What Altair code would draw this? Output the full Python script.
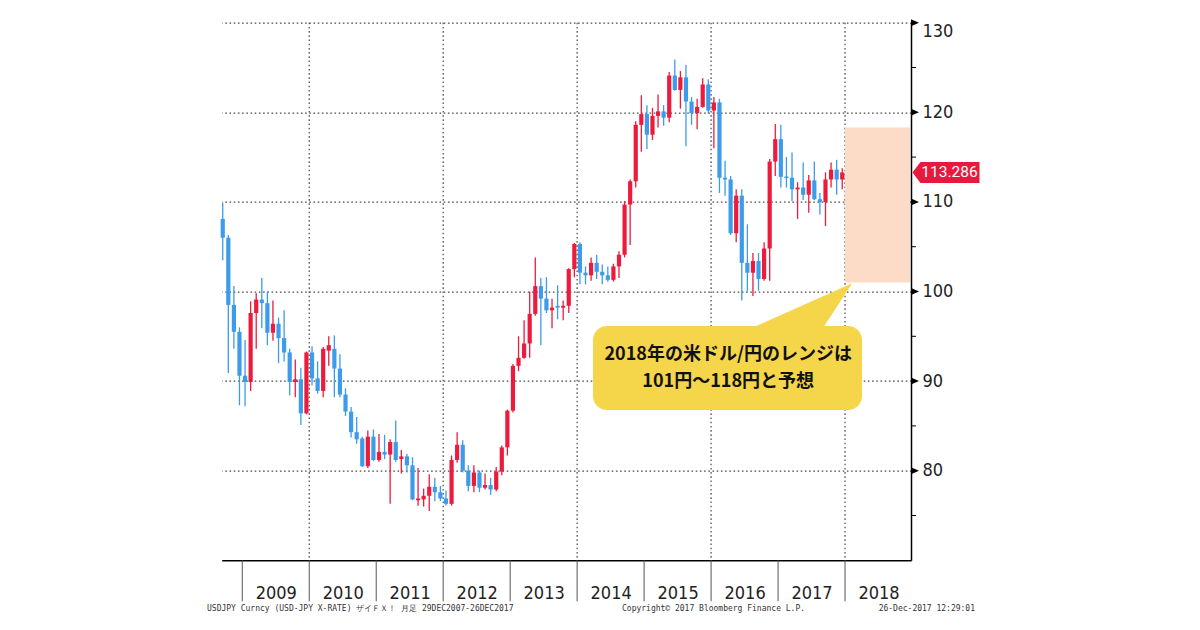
import altair as alt
import pandas as pd

# Monthly USD/JPY candles, Sep 2008 .. Dec 2017
start_year, start_month = 2008, 9
opens = [108.1, 106.0, 98.5, 95.5,
         90.6, 89.9, 97.6, 99.1, 98.7, 95.4, 96.4, 94.8, 93.2, 89.9, 90.2, 86.4,
         93.2, 90.3, 88.9, 93.4, 93.6, 91.4, 88.5, 86.6, 84.3, 83.6, 80.5, 83.8,
         81.2, 82.1, 81.8, 83.2, 81.3, 81.6, 80.6, 76.7, 76.8, 77.2, 78.2, 77.6,
         76.9, 76.3, 81.2, 82.9, 80.0, 78.3, 79.8, 78.1, 78.4, 77.9, 79.9, 82.6,
         86.7, 91.7, 92.6, 94.2, 97.5, 100.6, 99.2, 97.9, 98.4, 98.2, 98.4, 102.5,
         105.3, 102.1, 101.8, 103.2, 102.2, 101.8, 101.3, 102.8, 104.1, 109.7, 112.3, 118.6,
         119.8, 117.5, 119.6, 120.1, 119.4, 124.1, 122.5, 123.9, 121.2, 119.9, 120.6, 123.1,
         120.2, 121.1, 112.7, 112.5, 106.5, 110.7, 103.2, 102.1, 103.4, 101.4, 104.8, 114.5,
         117.0, 112.8, 112.7, 111.4, 111.6, 110.8, 112.4, 110.3, 110.0, 112.5, 113.6, 112.5]
highs = [109.9, 106.3, 100.6, 96.0,
         94.6, 98.9, 99.8, 101.5, 100.0, 99.0, 97.1, 97.9, 93.6, 92.4, 91.5, 93.3,
         93.9, 92.2, 93.8, 95.0, 95.1, 93.0, 89.2, 87.1, 86.0, 83.8, 84.5, 84.6,
         84.1, 84.0, 83.5, 85.6, 82.3, 81.9, 81.5, 80.3, 78.0, 79.6, 79.2, 78.3,
         77.8, 81.7, 84.3, 83.4, 80.6, 80.6, 80.0, 79.7, 79.2, 80.4, 82.8, 86.8,
         91.9, 95.0, 96.8, 100.0, 103.8, 101.5, 101.6, 99.2, 100.7, 99.0, 102.6, 105.4,
         105.5, 102.8, 103.8, 104.1, 103.0, 102.8, 103.1, 104.5, 110.1, 112.5, 119.0, 121.9,
         120.8, 120.5, 122.0, 120.8, 124.5, 125.9, 124.6, 125.3, 121.7, 121.5, 123.8, 123.7,
         121.7, 121.5, 114.6, 112.9, 111.4, 111.4, 107.5, 104.3, 104.3, 105.5, 114.8, 118.7,
         118.6, 115.0, 115.5, 112.2, 114.4, 113.0, 114.5, 111.0, 113.3, 114.4, 114.7, 113.75]
lows = [103.5, 90.9, 93.6, 87.3,
        87.2, 88.9, 93.6, 95.9, 94.0, 94.5, 92.0, 92.2, 88.4, 88.2, 85.1, 86.3,
        89.5, 88.6, 88.2, 91.7, 88.2, 88.2, 86.1, 83.7, 83.0, 80.4, 80.3, 81.1,
        81.0, 81.3, 76.3, 81.0, 79.7, 79.8, 76.7, 76.1, 76.0, 75.5, 76.6, 76.6,
        76.1, 76.1, 80.9, 79.8, 77.7, 77.6, 77.6, 77.9, 77.3, 77.7, 79.5, 81.7,
        86.5, 91.1, 92.5, 92.6, 97.3, 94.0, 97.6, 95.9, 96.9, 96.8, 97.6, 101.6,
        100.8, 100.8, 101.2, 101.4, 100.8, 101.1, 101.1, 101.5, 103.8, 105.2, 111.6, 115.6,
        115.9, 116.9, 118.3, 118.5, 118.9, 122.4, 120.4, 116.2, 118.6, 118.1, 120.5, 119.9,
        116.0, 111.0, 110.7, 106.3, 105.5, 99.0, 100.0, 99.5, 100.1, 101.2, 101.2, 112.9,
        111.6, 111.6, 110.1, 108.1, 110.2, 108.8, 110.2, 108.6, 107.3, 111.6, 110.8, 111.4]
closes = [106.0, 98.5, 95.5, 90.6,
          89.9, 97.6, 99.1, 98.7, 95.4, 96.4, 94.8, 93.2, 89.9, 90.2, 86.4, 93.2,
          90.3, 88.9, 93.6, 94.0, 91.4, 88.5, 86.6, 84.3, 83.5, 80.5, 83.8, 81.2,
          82.1, 81.8, 83.2, 81.2, 81.6, 80.6, 76.8, 76.9, 77.2, 78.2, 77.6, 76.9,
          76.3, 81.2, 82.9, 80.0, 78.3, 79.8, 78.1, 78.4, 77.9, 79.9, 82.6, 86.7,
          91.7, 92.6, 94.2, 97.5, 100.6, 99.2, 97.9, 98.2, 98.2, 98.4, 102.5, 105.3,
          102.1, 101.8, 103.2, 102.2, 101.8, 101.3, 102.8, 104.1, 109.7, 112.3, 118.6, 119.8,
          117.5, 119.6, 120.1, 119.4, 124.1, 122.5, 123.9, 121.2, 119.9, 120.6, 123.1, 120.2,
          121.1, 112.7, 112.5, 106.5, 110.7, 103.2, 102.1, 103.4, 101.4, 104.8, 114.5, 117.0,
          112.8, 112.7, 111.4, 111.6, 110.8, 112.4, 110.3, 110.0, 112.5, 113.6, 112.5, 113.286]

year_labels = [2009, 2010, 2011, 2012, 2013, 2014, 2015, 2016, 2017, 2018]
grid_years = [2010, 2012, 2014, 2016, 2018]
y_major = [80, 90, 100, 110, 120, 130]
y_minor = [75, 85, 95, 105, 115, 125]
range_low, range_high = 101, 118.3
last_price = 113.286
callout_lines = ["2018年の米ドル/円のレンジは", "101円～118円と予想"]
footer_left = "USDJPY Curncy (USD-JPY X-RATE) ザイＦＸ！ 月足 29DEC2007-26DEC2017"
footer_mid = "Copyright© 2017 Bloomberg Finance L.P."
footer_right = "26-Dec-2017 12:29:01"

RED = "#EC1B3C"
BLUE = "#3C9BEA"
W, H = 689.3, 537.6
PL, PT = 213.7, 14.7
LABEL_FONT = "Liberation Sans Narrow, DejaVu Sans Condensed, Roboto, sans-serif"
GRID = "#4a4a4a"

rows = []
for i, (o, h, l, c) in enumerate(zip(opens, highs, lows, closes)):
    m = start_month - 1 + i
    yr = start_year + m // 12
    mo = m % 12 + 1
    top, bot = max(o, c), min(o, c)
    if top - bot < 0.16:
        mid = (top + bot) / 2
        top, bot = mid + 0.08, mid - 0.08
    rows.append({"t": yr + (mo - 0.5) / 12, "high": h, "low": l, "top": top, "bot": bot,
                 "dir": "up" if c >= o else "down"})
candles = pd.DataFrame(rows)

xscale = alt.Scale(domain=[2008.693, 2018.985], nice=False, zero=False)
yscale = alt.Scale(domain=[70, 130], nice=False, zero=False)
cscale = alt.Scale(domain=["up", "down"], range=[RED, BLUE])

xaxis = alt.Axis(values=[y + 0.5 for y in year_labels], labelExpr="floor(datum.value)",
                 ticks=False, grid=False, domainColor="#000", domainWidth=1.5, title=None,
                 labelFont=LABEL_FONT, labelFontSize=18, labelColor="#222", labelPadding=24,
                 labelFlush=False)
yaxis = alt.Axis(orient="right", values=y_major, ticks=False, grid=True, gridDash=[1.6, 2.6],
                 gridColor=GRID, gridWidth=1.2, domainColor="#000", domainWidth=1.5, title=None,
                 labelFont=LABEL_FONT, labelFontSize=18, labelColor="#222", labelPadding=11,
                 labelFlush=True)


def X(f):
    return alt.X(f, scale=xscale, axis=xaxis)


def Y(f):
    return alt.Y(f, scale=yscale, axis=yaxis)


vgrid = alt.Chart(pd.DataFrame({"yr": grid_years})).mark_rule(
    strokeDash=[1.6, 2.6], color=GRID, strokeWidth=1.2).encode(
    x=X("yr:Q"), y=alt.value(0), y2=alt.value(H))

seps = alt.Chart(pd.DataFrame({"yr": year_labels})).mark_rule(color="#555", strokeWidth=1).encode(
    x=X("yr:Q"), y=alt.value(H), y2=alt.value(H + 41))

shade = alt.Chart(pd.DataFrame({"a": [2018], "b": [2018.97], "lo": [range_low], "hi": [range_high]})).mark_rect(
    color="#FCDCC7").encode(x=X("a:Q"), x2="b:Q", y=Y("lo:Q"), y2="hi:Q")

wicks = alt.Chart(candles).mark_rule(strokeWidth=1.3).encode(
    x=X("t:Q"), y=Y("low:Q"), y2="high:Q",
    color=alt.Color("dir:N", scale=cscale, legend=None))

bodies = alt.Chart(candles).mark_rule(strokeWidth=4.2, strokeCap="butt").encode(
    x=X("t:Q"), y=Y("bot:Q"), y2="top:Q",
    color=alt.Color("dir:N", scale=cscale, legend=None))

major_marks = alt.Chart(pd.DataFrame({"v": y_major})).mark_point(
    shape="M 0 -3.5 L 8 0 L 0 3.5 Z", size=4, filled=True, opacity=1, color="#000", strokeWidth=0).encode(
    x=alt.value(W), y=Y("v:Q"))

minor_marks = alt.Chart(pd.DataFrame({"v": y_minor})).mark_rule(color="#000", strokeWidth=1).encode(
    x=alt.value(W), x2=alt.value(W + 5), y=Y("v:Q"))

tag = alt.Chart(pd.DataFrame({"p": [last_price]})).mark_point(
    shape="M 0 0 L 8 -10.5 L 67 -10.5 L 67 10.5 L 8 10.5 Z", size=4, filled=True, opacity=1,
    color="#E8193C", strokeWidth=0).encode(
    x=alt.value(W + 1.5), y=Y("p:Q"))

tag_text = alt.Chart(pd.DataFrame({"p": [last_price], "s": [f"{last_price:.3f}"]})).mark_text(
    font="Roboto, sans-serif", fontSize=15.5, color="#fff", align="center", baseline="middle").encode(
    x=alt.value(W + 38.5), y=Y("p:Q"), text="s:N")

one = pd.DataFrame({"k": [0]})
pointer = alt.Chart(one).mark_point(
    shape="M 0 0 L -103 46 L -30 46 Z", size=4, filled=True, opacity=1, color="#F5D54A", strokeWidth=0).encode(
    x=alt.value(630.5), y=alt.value(260.5))

bubble = alt.Chart(one).mark_rect(color="#F5D54A", cornerRadius=14).encode(
    x=alt.value(371.3), x2=alt.value(640.3), y=alt.value(303.3), y2=alt.value(387.3))

txt1 = alt.Chart(one).mark_text(
    text=callout_lines[0], font="Noto Sans CJK JP", fontSize=18, fontWeight="bold",
    color="#111", align="center", baseline="middle").encode(x=alt.value(506.5), y=alt.value(332.3))
txt2 = alt.Chart(one).mark_text(
    text=callout_lines[1], font="Noto Sans CJK JP", fontSize=18, fontWeight="bold",
    color="#111", align="center", baseline="middle").encode(x=alt.value(506.5), y=alt.value(359.3))

foot_style = dict(font="DejaVu Sans Mono, monospace", fontSize=8, color="#333", baseline="middle")
foot1 = alt.Chart(one).mark_text(text=footer_left, align="left", **foot_style).encode(
    x=alt.value(-14.7), y=alt.value(586.5))
foot2 = alt.Chart(one).mark_text(text=footer_mid, align="left", **foot_style).encode(
    x=alt.value(400.3), y=alt.value(586.5))
foot3 = alt.Chart(one).mark_text(text=footer_right, align="right", **foot_style).encode(
    x=alt.value(753.3), y=alt.value(586.5))

chart = alt.layer(
    vgrid, shade, seps, wicks, bodies, major_marks, minor_marks, tag, tag_text,
    pointer, bubble, txt1, txt2, foot1, foot2, foot3
).properties(
    width=W, height=H,
    autosize=alt.AutoSizeParams(type="none"),
    padding={"left": PL, "top": PT, "right": 1184 - PL - W, "bottom": 614 - PT - H},
    background="white",
).configure_view(stroke=None)

chart.save("out.html", embed_options={"renderer": "svg", "actions": False})
